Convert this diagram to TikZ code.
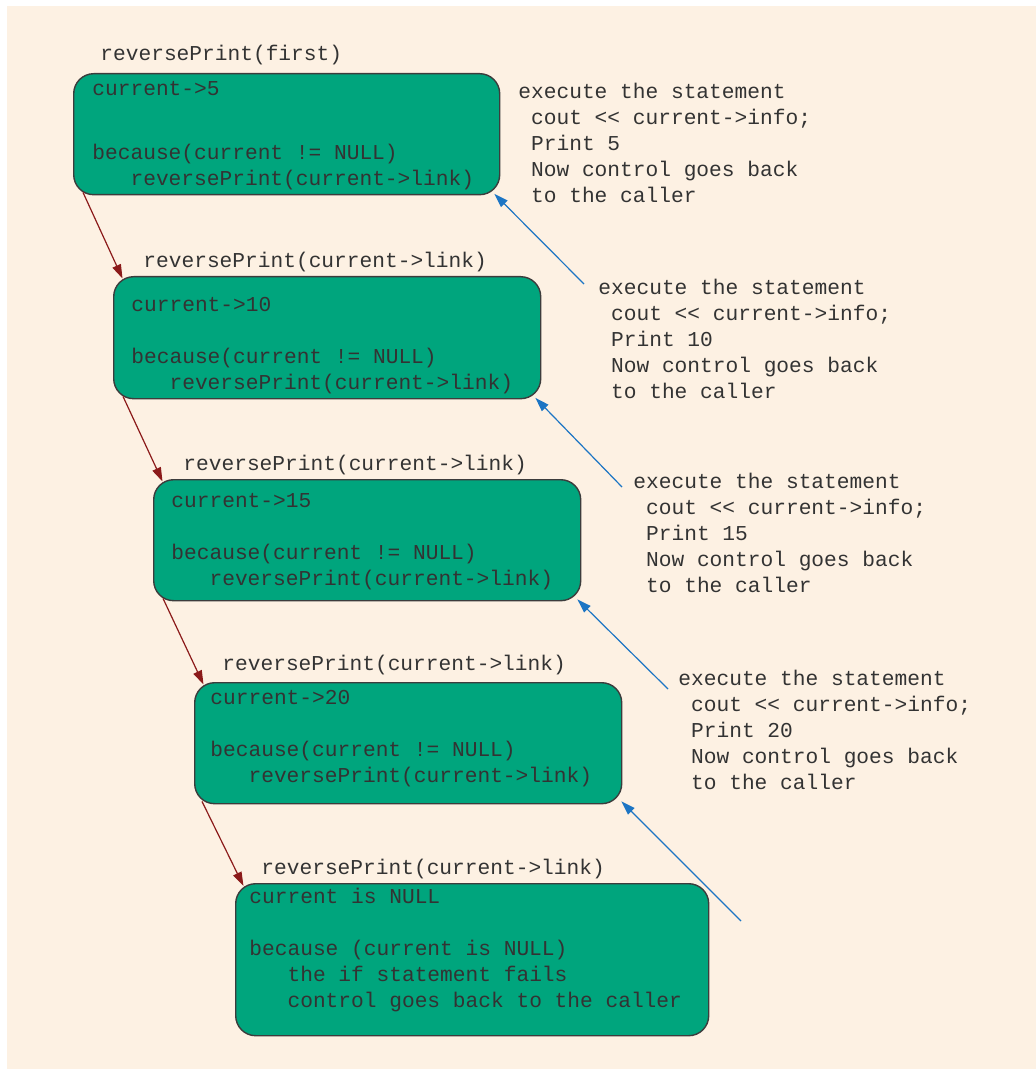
\documentclass[tikz,border=0pt]{standalone}
\usepackage{fontspec}
\setmonofont{Liberation Mono}
\usetikzlibrary{arrows.meta, calc}
\definecolor{PageCream}{HTML}{FDF1E3}
\definecolor{FrameGreen}{HTML}{00A57D}
\definecolor{FrameEdge}{HTML}{3C3C3C}
\definecolor{TextGray}{HTML}{333333}
\definecolor{CallRed}{HTML}{8B1A1A}
\definecolor{ReturnBlue}{HTML}{1C75C4}
\tikzset{
    % Call frames - green boxes with rounded corners
    callframe/.style={
        rectangle,
        rounded corners=10pt,
        draw=FrameEdge,
        fill=FrameGreen,
        line width=0.7pt,
        anchor=north west,
        inner sep=0pt
    },
    % Code text in typewriter
    codetext/.style={
        anchor=north west,
        inner sep=0pt,
        align=left,
        text=TextGray,
        font=\ttfamily\fontsize{10.6}{13}\selectfont,
        execute at begin node=\strut
    },
    % Arrow styles
    callarrow/.style={
        ->,
        >={Triangle[length=7pt,width=4.5pt]},
        line width=0.6pt,
        draw=CallRed
    },
    backarrow/.style={
        ->,
        >={Triangle[length=7pt,width=4.5pt]},
        line width=0.6pt,
        draw=ReturnBlue
    }
}
\begin{document}
\begin{tikzpicture}[x=0.5pt, y=-0.5pt]
    \fill[white] (0,0) rectangle (1036,1069);
    \fill[PageCream] (7,6) rectangle (1036,1069);

    % frames
    \node[callframe, minimum width=213pt, minimum height=60.5pt] (b1) at (73,73) {};
    \node[callframe, minimum width=213.5pt, minimum height=61pt] (b2) at (113,276) {};
    \node[callframe, minimum width=213.5pt, minimum height=60.5pt] (b3) at (153,479) {};
    \node[callframe, minimum width=213.5pt, minimum height=60.5pt] (b4) at (194,682) {};
    \node[callframe, minimum width=236.5pt, minimum height=76pt] (b5) at (235,883) {};

    % labels above the frames
    \node[codetext] (l1) at (100,41.8) {reversePrint(first)};
    \node[codetext] (l2) at (143,248.8) {reversePrint(current->link)};
    \node[codetext] (l3) at (183,451.8) {reversePrint(current->link)};
    \node[codetext] (l4) at (222,651.8) {reversePrint(current->link)};
    \node[codetext] (l5) at (261,855.8) {reversePrint(current->link)};

    % frame contents
    \node[codetext] (c1) at (92,81.3) {current->5\\[19pt]because(current != NULL)\\\ \ \ reversePrint(current->link)};
    \node[codetext] (c2) at (131,297.3) {current->10\\[13pt]because(current != NULL)\\\ \ \ reversePrint(current->link)};
    \node[codetext] (c3) at (171,493.3) {current->15\\[13pt]because(current != NULL)\\\ \ \ reversePrint(current->link)};
    \node[codetext] (c4) at (210,690.3) {current->20\\[13pt]because(current != NULL)\\\ \ \ reversePrint(current->link)};
    \node[codetext] (c5) at (249,887.3) {current is NULL\\[13pt]because (current is NULL)\\\ \ \ the if statement fails\\\ \ \ control goes back to the caller};

    % side notes
    \node[codetext] (s1) at (518,82.3) {execute the statement\\\ cout << current->info;\\\ Print 5\\\ Now control goes back\\\ to the caller};
    \node[codetext] (s2) at (598,278.3) {execute the statement\\\ cout << current->info;\\\ Print 10\\\ Now control goes back\\\ to the caller};
    \node[codetext] (s3) at (633,472.3) {execute the statement\\\ cout << current->info;\\\ Print 15\\\ Now control goes back\\\ to the caller};
    \node[codetext] (s4) at (678,669.3) {execute the statement\\\ cout << current->info;\\\ Print 20\\\ Now control goes back\\\ to the caller};

    % calls
    \draw[callarrow] ($(b1.south west)+(10,-3)$) -- ($(b2.north west)+(9.5,2.5)$);
    \draw[callarrow] ($(b2.south west)+(10,-3)$) -- ($(b3.north west)+(9.5,2.5)$);
    \draw[callarrow] ($(b3.south west)+(10,-3)$) -- ($(b4.north west)+(9.5,2.5)$);
    \draw[callarrow] ($(b4.south west)+(8,-3)$) -- ($(b5.north west)+(8.5,3)$);

    % returns
    \coordinate (f1) at (584,284);
    \coordinate (f2) at (622,487);
    \coordinate (f3) at (668,689);
    \coordinate (f4) at (741,921);
    \draw[backarrow] (f1) -- ($(b1.south east)+(-6,-1.5)$);
    \draw[backarrow] (f2) -- ($(b2.south east)+(-6,-1.5)$);
    \draw[backarrow] (f3) -- ($(b3.south east)+(-4,-2)$);
    \draw[backarrow] (f4) -- ($(b4.south east)+(-1,-3)$);
\end{tikzpicture}
\end{document}
